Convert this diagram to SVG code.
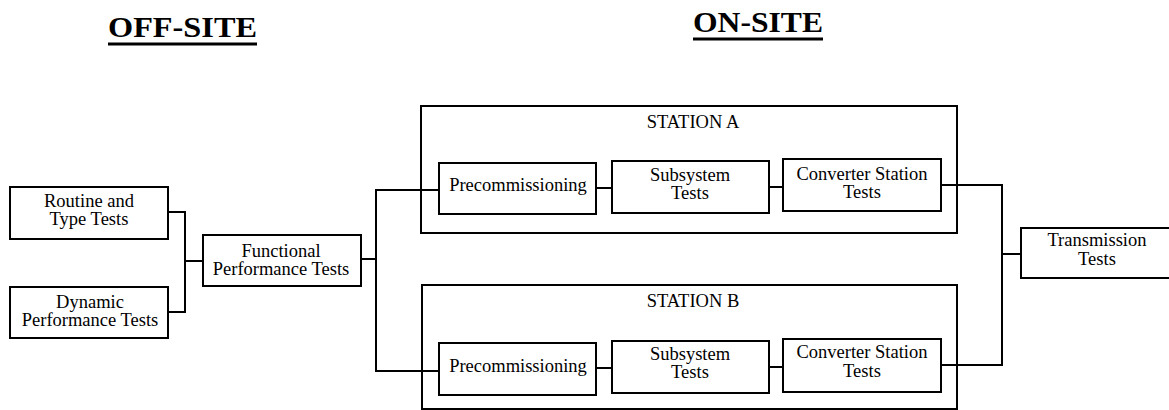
<svg xmlns="http://www.w3.org/2000/svg" width="1169" height="410" viewBox="0 0 1169 410">
<style>
.bg{fill:#fff}
.box{fill:#fff;stroke:#000;stroke-width:2}
.frame{fill:none;stroke:#000;stroke-width:2}
.ln{fill:none;stroke:#000;stroke-width:2}
.t{font-family:"Liberation Serif","Times New Roman",serif;font-size:18.5px;fill:#000;text-anchor:middle}
.h{font-family:"Liberation Serif","Times New Roman",serif;font-size:30px;font-weight:bold;fill:#000}
.ul{stroke:#000;stroke-width:3}
</style>
<rect class="bg" x="0" y="0" width="1169" height="410"/>
<g id="titles">
<text class="h" x="108" y="37" textLength="149" lengthAdjust="spacingAndGlyphs">OFF-SITE</text>
<line class="ul" x1="108" y1="44" x2="257" y2="44"/>
<text class="h" x="693" y="32" textLength="130" lengthAdjust="spacingAndGlyphs">ON-SITE</text>
<line class="ul" x1="693" y1="39" x2="823" y2="39"/>
</g>
<g id="stationA">
<rect class="frame" x="421" y="106" width="536" height="127"/>
<text class="t" x="693" y="128">STATION A</text>
</g>
<g id="stationB">
<rect class="frame" x="422" y="285" width="535" height="124"/>
<text class="t" x="693" y="307">STATION B</text>
</g>
<g id="connectors">
<polyline class="ln" points="168,212 185,212 185,312 168,312"/>
<line class="ln" x1="185" y1="261" x2="203" y2="261"/>
<line class="ln" x1="361" y1="259" x2="376" y2="259"/>
<polyline class="ln" points="439,190 376,190 376,371 439,371"/>
<line class="ln" x1="596" y1="188" x2="612" y2="188"/>
<line class="ln" x1="769" y1="187" x2="783" y2="187"/>
<polyline class="ln" points="941,185 1002,185 1002,365 941,365"/>
<line class="ln" x1="1002" y1="254" x2="1021" y2="254"/>
<line class="ln" x1="596" y1="368" x2="612" y2="368"/>
<line class="ln" x1="769" y1="367" x2="783" y2="367"/>
</g>
<g id="routine">
<rect class="box" x="10" y="187" width="158" height="52"/>
<text class="t" x="89" y="207">Routine and</text>
<text class="t" x="89" y="225">Type Tests</text>
</g>
<g id="dynamic">
<rect class="box" x="10" y="287" width="158" height="51"/>
<text class="t" x="90" y="308">Dynamic</text>
<text class="t" x="90" y="326">Performance Tests</text>
</g>
<g id="functional">
<rect class="box" x="203" y="235" width="158" height="51"/>
<text class="t" x="281" y="257">Functional</text>
<text class="t" x="281" y="275">Performance Tests</text>
</g>
<g id="preA">
<rect class="box" x="439" y="163" width="157" height="51"/>
<text class="t" x="518" y="191">Precommissioning</text>
</g>
<g id="subA">
<rect class="box" x="612" y="161" width="157" height="52"/>
<text class="t" x="690" y="181">Subsystem</text>
<text class="t" x="690" y="199">Tests</text>
</g>
<g id="convA">
<rect class="box" x="783" y="159" width="158" height="52"/>
<text class="t" x="862" y="180">Converter Station</text>
<text class="t" x="862" y="198">Tests</text>
</g>
<g id="preB">
<rect class="box" x="439" y="343" width="157" height="52"/>
<text class="t" x="518" y="372">Precommissioning</text>
</g>
<g id="subB">
<rect class="box" x="612" y="341" width="157" height="52"/>
<text class="t" x="690" y="360">Subsystem</text>
<text class="t" x="690" y="378">Tests</text>
</g>
<g id="convB">
<rect class="box" x="783" y="339" width="158" height="53"/>
<text class="t" x="862" y="358">Converter Station</text>
<text class="t" x="862" y="377">Tests</text>
</g>
<g id="transmission">
<rect class="box" x="1021" y="228" width="160" height="50"/>
<text class="t" x="1097" y="246">Transmission</text>
<text class="t" x="1097" y="265">Tests</text>
</g>
</svg>
